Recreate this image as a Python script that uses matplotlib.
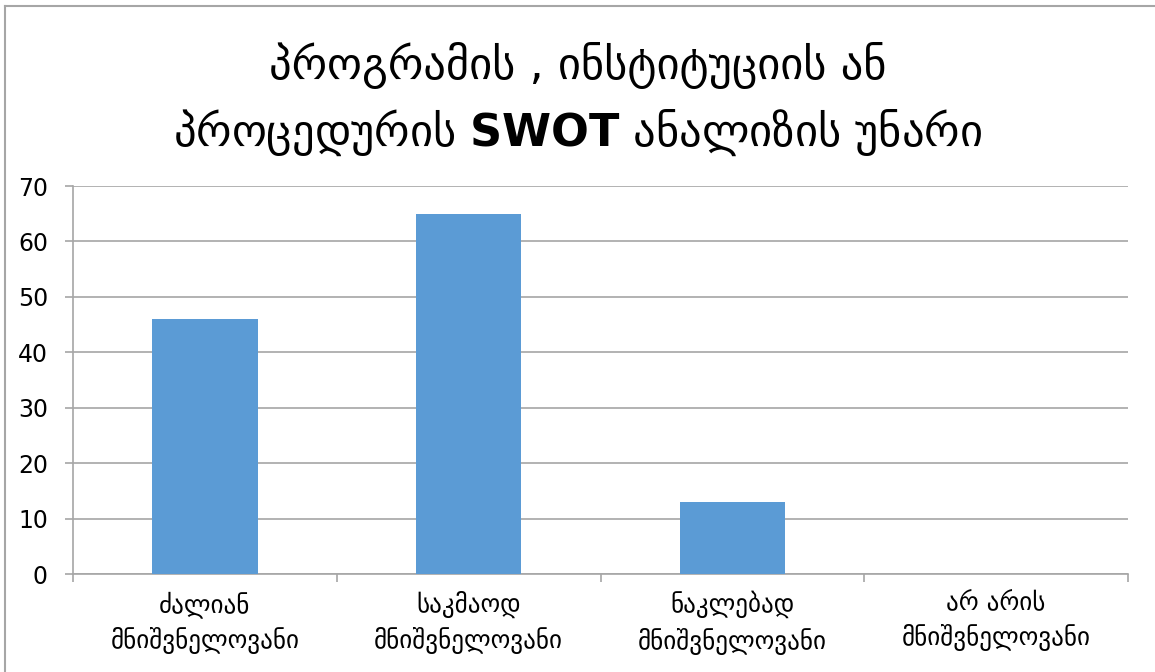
import matplotlib.pyplot as plt
import numpy as np
from matplotlib.lines import Line2D

categories = ['ძალიან\nმნიშვნელოვანი', 'საკმაოდ\nმნიშვნელოვანი',
              'ნაკლებად\nმნიშვნელოვანი', 'არ არის\nმნიშვნელოვანი']
values = [46, 65, 13, 0]
title = 'პროგრამის , ინსტიტუციის ან\nპროცედურის $\\mathbf{SWOT}$ ანალიზის უნარი'

plt.rcParams['font.family'] = ['DejaVu Sans']
plt.rcParams['mathtext.fontset'] = 'dejavusans'

fig = plt.figure(figsize=(11.55, 6.72), dpi=100)
fig.patch.set_facecolor('white')

# outer chart frame (only left and top edges are visible)
fx, fy = 5 / 1155, 1 - 6 / 672
fig.lines.append(Line2D([fx, fx], [0, fy], transform=fig.transFigure,
                        color='#A6A6A6', linewidth=1.5))
fig.lines.append(Line2D([fx, 1], [fy, fy], transform=fig.transFigure,
                        color='#A6A6A6', linewidth=1.5))

ax = fig.add_axes([73 / 1155, 1 - 574 / 672, (1128 - 73) / 1155, (574 - 186) / 672])
x = np.arange(len(categories))
ax.bar(x, values, width=0.4, color='#5B9BD5', zorder=3)

ax.set_xlim(-0.5, len(categories) - 0.5)
ax.set_ylim(0, 70)
ax.set_yticks(range(0, 71, 10))
ax.yaxis.grid(True, color='#A6A6A6', linewidth=1.2, zorder=0)
ax.set_xticks(x)
ax.set_xticklabels(categories, fontsize=18, linespacing=1.45)
ax.set_xticks(np.arange(-0.5, len(categories)), minor=True)
ax.tick_params(axis='x', which='major', length=0, pad=12)
ax.tick_params(axis='x', which='minor', length=6, color='#A6A6A6', width=1.2)
ax.tick_params(axis='y', length=6, color='#A6A6A6', width=1.2, labelsize=17, pad=12)

for s in ['top', 'right']:
    ax.spines[s].set_visible(False)
for s in ['left', 'bottom']:
    ax.spines[s].set_color('#A6A6A6')
    ax.spines[s].set_linewidth(1.2)

fig.text(0.5, 1 - 100 / 672, title, ha='center', va='center', fontsize=32,
         linespacing=1.5)

fig.savefig('out.png', dpi=100)
